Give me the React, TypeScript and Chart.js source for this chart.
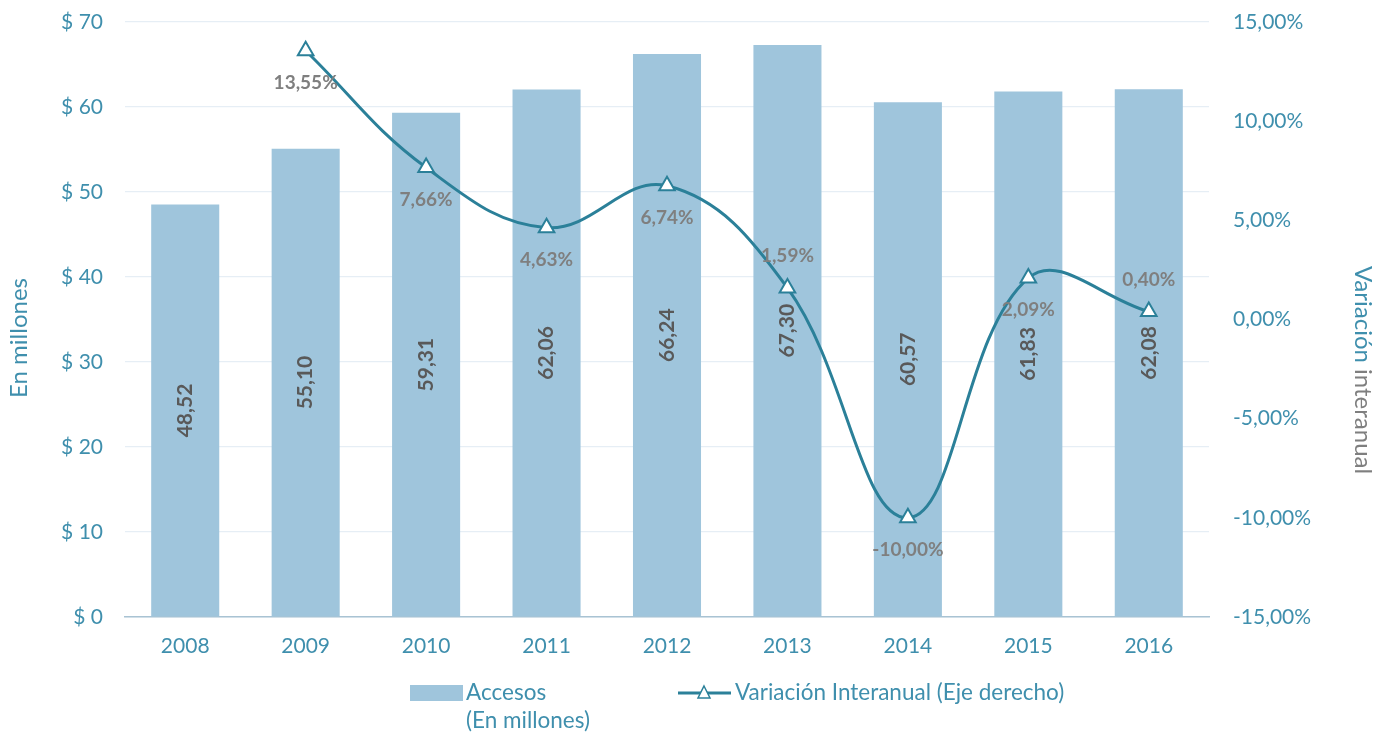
import { useEffect, useRef } from "react";
import { Chart, registerables } from "chart.js";

Chart.register(...registerables);

const years = ["2008", "2009", "2010", "2011", "2012", "2013", "2014", "2015", "2016"];
const accesos = [48.52, 55.1, 59.31, 62.06, 66.24, 67.3, 60.57, 61.83, 62.08];
const variacion: (number | null)[] = [null, 13.55, 7.66, 4.63, 6.74, 1.59, -10.0, 2.09, 0.4];
const variacionLabelAbove = [false, false, false, false, false, true, false, false, true];

const leftTitle = "En millones";
const rightTitleA = "Variación ";
const rightTitleB = "interanual";
const legendBar1 = "Accesos";
const legendBar2 = "(En millones)";
const legendLine = "Variación Interanual (Eje derecho)";

const FONT = "Lato, 'Open Sans', sans-serif";
const BAR_COLOR = "#9fc5dc";
const LINE_COLOR = "#2b8099";
const TICK_COLOR = "#3f8fad";
const GRAY = "#7f7f7f";

const fmt = (v: number, d: number) => v.toFixed(d).replace(".", ",");

const labelsPlugin = {
  id: "customLabels",
  afterDatasetsDraw(chart: any) {
    const ctx = chart.ctx as CanvasRenderingContext2D;
    ctx.save();
    const barMeta = chart.getDatasetMeta(0);
    ctx.fillStyle = "#595959";
    ctx.font = `bold 21px ${FONT}`;
    ctx.textAlign = "center";
    ctx.textBaseline = "middle";
    barMeta.data.forEach((bar: any, i: number) => {
      const cy = (bar.y + bar.base) / 2;
      ctx.save();
      ctx.translate(bar.x, cy);
      ctx.rotate(-Math.PI / 2);
      ctx.fillText(fmt(accesos[i], 2), 0, 0);
      ctx.restore();
    });
    const lineMeta = chart.getDatasetMeta(1);
    ctx.fillStyle = GRAY;
    ctx.font = `bold 19px ${FONT}`;
    lineMeta.data.forEach((pt: any, i: number) => {
      const v = variacion[i];
      if (v === null || v === undefined) return;
      const dy = variacionLabelAbove[i] ? -32 : 32;
      ctx.fillText(fmt(v, 2) + "%", pt.x, pt.y + dy);
    });
    ctx.restore();
  },
  afterDraw(chart: any) {
    const ctx = chart.ctx as CanvasRenderingContext2D;
    ctx.save();
    ctx.font = `24px ${FONT}`;
    ctx.fillStyle = TICK_COLOR;
    ctx.textAlign = "center";
    ctx.textBaseline = "middle";
    ctx.save();
    ctx.translate(19, 338);
    ctx.rotate(-Math.PI / 2);
    ctx.fillText(leftTitle, 0, 0);
    ctx.restore();
    ctx.save();
    ctx.translate(1363, 370);
    ctx.rotate(Math.PI / 2);
    ctx.textAlign = "left";
    const wA = ctx.measureText(rightTitleA).width;
    const wB = ctx.measureText(rightTitleB).width;
    const start = -(wA + wB) / 2;
    ctx.fillStyle = TICK_COLOR;
    ctx.fillText(rightTitleA, start, 0);
    ctx.fillStyle = GRAY;
    ctx.fillText(rightTitleB, start + wA, 0);
    ctx.restore();
    ctx.font = `22.5px ${FONT}`;
    ctx.textAlign = "left";
    ctx.fillStyle = BAR_COLOR;
    ctx.fillRect(410, 685, 53, 16);
    ctx.fillStyle = TICK_COLOR;
    ctx.fillText(legendBar1, 466, 693);
    ctx.fillText(legendBar2, 466, 721);
    ctx.strokeStyle = LINE_COLOR;
    ctx.lineWidth = 3;
    ctx.beginPath();
    ctx.moveTo(678, 693);
    ctx.lineTo(731, 693);
    ctx.stroke();
    ctx.lineWidth = 1.5;
    ctx.fillStyle = "#ffffff";
    ctx.beginPath();
    ctx.moveTo(704, 686);
    ctx.lineTo(710, 698);
    ctx.lineTo(698, 698);
    ctx.closePath();
    ctx.fill();
    ctx.stroke();
    ctx.fillStyle = TICK_COLOR;
    ctx.fillText(legendLine, 735, 693);
    ctx.restore();
  },
};

export default function App() {
  const ref = useRef<HTMLCanvasElement | null>(null);
  useEffect(() => {
    document.body.style.margin = "0";
    if (!ref.current) return;
    const chart = new Chart(ref.current, {
      data: {
        labels: years,
        datasets: [
          {
            type: "bar",
            label: legendBar1,
            data: accesos,
            backgroundColor: BAR_COLOR,
            yAxisID: "y",
            barPercentage: 0.565,
            categoryPercentage: 1,
            order: 2,
          },
          {
            type: "line",
            label: legendLine,
            data: variacion,
            yAxisID: "y1",
            borderColor: LINE_COLOR,
            borderWidth: 3,
            tension: 0.4,
            pointStyle: "triangle",
            pointRadius: 9,
            pointBorderWidth: 2,
            pointBackgroundColor: "#ffffff",
            pointBorderColor: LINE_COLOR,
            order: 1,
          },
        ],
      } as any,
      options: {
        animation: false,
        responsive: false,
        maintainAspectRatio: false,
        layout: { padding: { top: 22, left: 0, right: 0, bottom: 0 } },
        plugins: { legend: { display: false }, tooltip: { enabled: false } },
        scales: {
          x: {
            grid: { display: false, drawTicks: false },
            border: { color: "#a9c3d3", width: 1.5 },
            ticks: { color: TICK_COLOR, font: { family: FONT, size: 21 }, padding: 17 },
            afterFit: (s: any) => {
              s.height = 118;
            },
          },
          y: {
            position: "left",
            min: 0,
            max: 70,
            ticks: {
              stepSize: 10,
              color: TICK_COLOR,
              font: { family: FONT, size: 21 },
              padding: 22,
              callback: (v: any) => "$ " + v,
            },
            grid: { color: "#e6eef5", lineWidth: 1.2, drawTicks: false },
            border: { display: false },
            afterFit: (s: any) => {
              s.width = 125;
              s.paddingTop = 0;
              s.paddingBottom = 0;
            },
          },
          y1: {
            position: "right",
            min: -15,
            max: 15,
            ticks: {
              stepSize: 5,
              color: TICK_COLOR,
              font: { family: FONT, size: 21 },
              padding: 24,
              callback: (v: any) => fmt(Number(v), 2) + "%",
            },
            grid: { display: false, drawTicks: false },
            border: { display: false },
            afterFit: (s: any) => {
              s.width = 173;
              s.paddingTop = 0;
              s.paddingBottom = 0;
            },
          },
        },
      } as any,
      plugins: [labelsPlugin],
    });
    return () => chart.destroy();
  }, []);
  return (
    <div style={{ position: "absolute", left: 0, top: 0, width: 1382, height: 735 }}>
      <canvas ref={ref} width={1382} height={735} style={{ width: 1382, height: 735 }} />
    </div>
  );
}
